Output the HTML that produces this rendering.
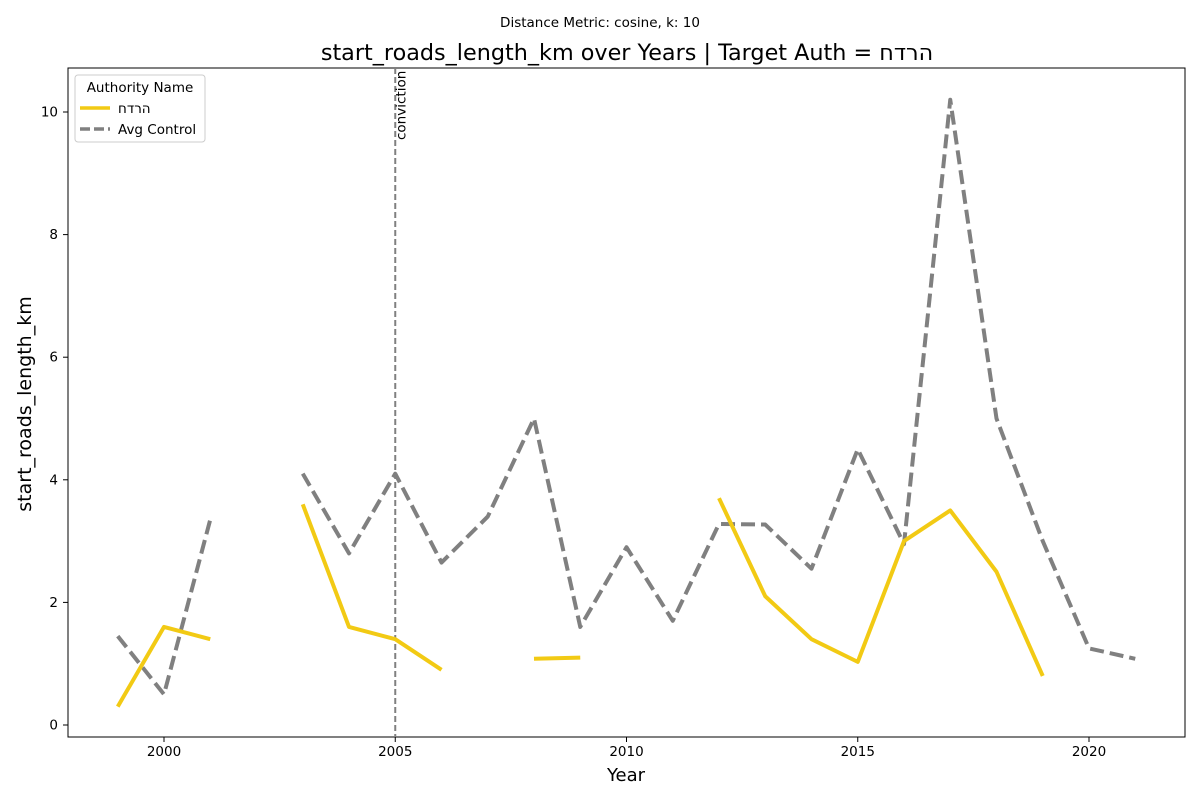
<!DOCTYPE html>
<html><head><meta charset="utf-8"><style>
body{margin:0;background:#fff;}
svg text{font-family:"DejaVu Sans","Liberation Sans",sans-serif;}
</style></head><body>
<svg id="chart" width="1200" height="800" xmlns="http://www.w3.org/2000/svg">
<text x="600" y="27" font-size="13.5" text-anchor="middle">Distance Metric: cosine, k: 10</text>
<text x="627" y="60" font-size="22.3" text-anchor="middle">start_roads_length_km over Years | Target Auth = הרדח</text>
<rect x="68" y="68" width="1117" height="669" fill="none" stroke="#000" stroke-width="1"/>
<g id="axes"></g>
<g id="lines"></g>
<text x="626" y="781" font-size="18" text-anchor="middle">Year</text>
<text transform="translate(31,404) rotate(-90)" font-size="19" text-anchor="middle">start_roads_length_km</text>
<g>
<rect x="75" y="75" width="130" height="67" rx="3" fill="#fff" stroke="#ccc"/>
<text x="140" y="92" font-size="13.5" text-anchor="middle">Authority Name</text>
<line x1="80" y1="108" x2="110" y2="108" stroke="#f2ca14" stroke-width="3.5"/>
<text x="118" y="113" font-size="13.5">הרדח</text>
<line x1="80" y1="129" x2="110" y2="129" stroke="#808080" stroke-width="3.5" stroke-dasharray="10,4"/>
<text x="118" y="134" font-size="13.5">Avg Control</text>
</g>
</svg>
<script>
const years=[1999,2000,2001,2002,2003,2004,2005,2006,2007,2008,2009,2010,2011,2012,2013,2014,2015,2016,2017,2018,2019,2020,2021];
const targetVals=[0.3,1.6,1.4,null,3.6,1.6,1.4,0.9,null,1.08,1.1,null,null,3.7,2.1,1.4,1.03,3.0,3.5,2.5,0.8,null,null];
const controlVals=[1.45,0.5,3.35,null,4.1,2.8,4.1,2.65,3.4,5.0,1.6,2.9,1.7,3.28,3.27,2.55,4.5,2.95,10.2,5.0,3.0,1.25,1.08];
const xTicks=[2000,2005,2010,2015,2020];
const yTicks=[0,2,4,6,8,10];
const convictionYear=2005;
const NS="http://www.w3.org/2000/svg";
const x=v=>164+(v-2000)*46.25;
const y=v=>725-v*61.3;
const axes=document.getElementById('axes'),lines=document.getElementById('lines');
function mk(t,a,p){const e=document.createElementNS(NS,t);for(const k in a)e.setAttribute(k,a[k]);p.appendChild(e);return e;}
xTicks.forEach(t=>{
 const l=mk('line',{x1:x(t),x2:x(t),y1:737,y2:742,stroke:'#000'},axes);
 
 
 const tx=mk('text',{x:x(t),y:756,'font-size':13.5,'text-anchor':'middle'},axes);tx.textContent=t;
 
 
});
yTicks.forEach(t=>{
 const l=mk('line',{x1:63,x2:68,y1:y(t),y2:y(t),stroke:'#000'},axes);
 
 
 const tx=mk('text',{x:58,y:y(t)+4.5,'font-size':13.5,'text-anchor':'end'},axes);tx.textContent=t;
 
 
});
const vl=mk('line',{x1:x(convictionYear),x2:x(convictionYear),y1:68,y2:737,stroke:'#808080','stroke-width':2,'stroke-dasharray':'6,3'},lines);


const ct=mk('text',{transform:`translate(${x(convictionYear)+10},140) rotate(-90)`,'font-size':13.5},lines);ct.textContent='conviction';


function series(vals,color,dash,name){
 let segs=[],cur=[];
 vals.forEach((v,i)=>{if(v===null){if(cur.length)segs.push(cur);cur=[];}else cur.push(x(years[i])+','+y(v));});
 if(cur.length)segs.push(cur);
 segs.forEach(s=>{
  const p=mk('polyline',{points:s.join(' '),fill:'none',stroke:color,'stroke-width':4,'stroke-linejoin':'round'},lines);
  if(dash)p.setAttribute('stroke-dasharray',dash);
  
  
 });
}
series(controlVals,'#808080','14,6','control-line');
series(targetVals,'#f2ca14',null,'target-line');
</script>
</body></html>
